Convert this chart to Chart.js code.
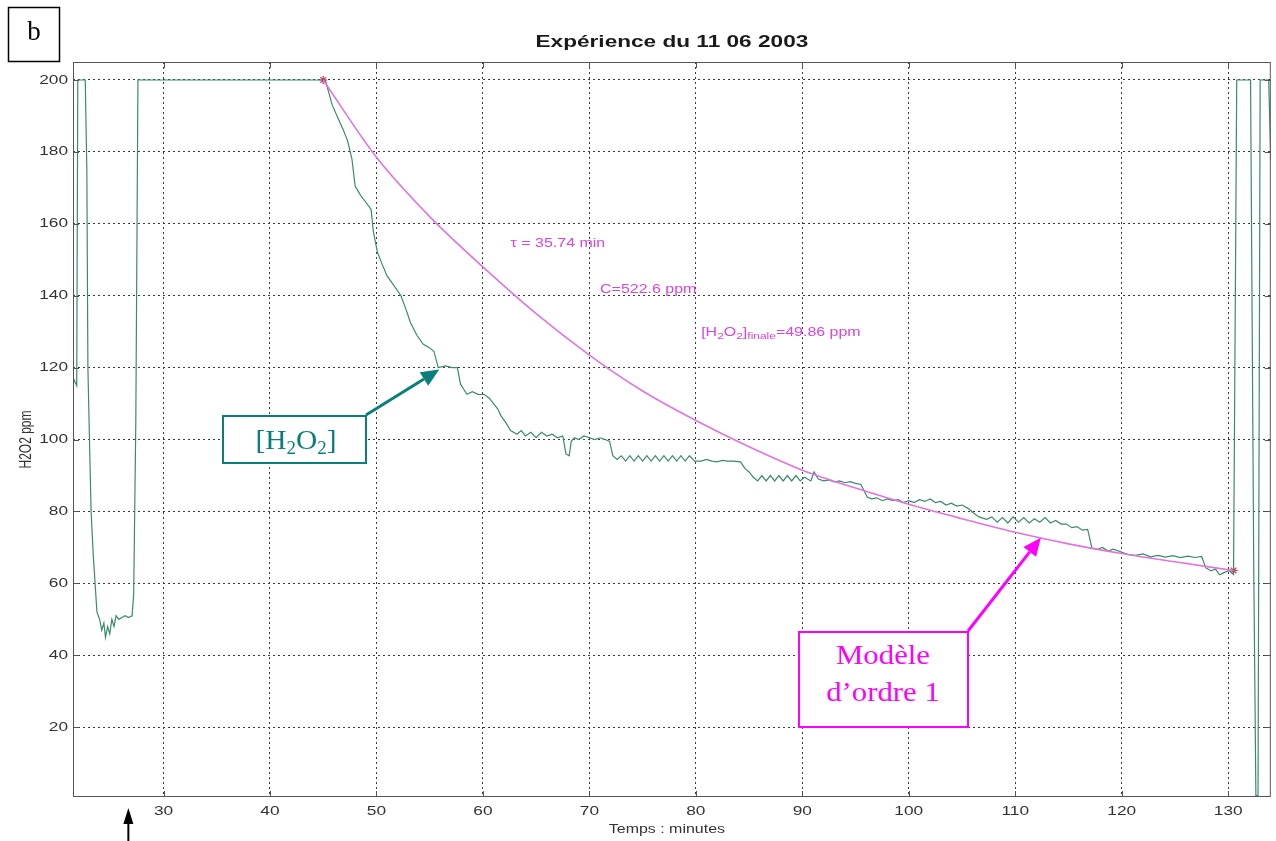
<!DOCTYPE html>
<html>
<head>
<meta charset="utf-8">
<script src="https://cdn.jsdelivr.net/npm/chart.js@4.4.1/dist/chart.umd.min.js"></script>
<style>
  html, body { margin: 0; padding: 0; background: #ffffff; }
  #wrap { position: relative; width: 1276px; height: 841px; }
  canvas { display: block; }
</style>
</head>
<body>
<div id="wrap"><canvas id="c" width="1276" height="841"></canvas></div>
<script>
// ---- Data ----
const chartTitle = "Expérience du 11 06 2003";
const xAxisTitle = "Temps : minutes";
const yAxisTitle = "H2O2 ppm";
const xTickValues = [30, 40, 50, 60, 70, 80, 90, 100, 110, 120, 130];
const yTickValues = [20, 40, 60, 80, 100, 120, 140, 160, 180, 200];

// measured [H2O2] (minutes, ppm)
const measTime = [
  21.55, 21.85, 21.95, 22.1, 22.5, 22.65, 22.8, 22.9, 22.95, 23.2, 23.4, 23.75, 24.0, 24.2, 24.4, 24.55, 24.75, 24.95, 25.15, 25.35, 25.55, 25.8, 26.1, 26.4, 26.7, 27.05, 27.2, 27.4, 27.6,
  45.2, 45.85, 46.3, 46.9, 47.3, 47.7, 48.0, 48.5, 49.0, 49.5, 49.7, 50.1, 50.5, 51.0, 51.6, 52.3, 52.8, 53.2, 53.8, 54.4, 55.0, 55.4, 55.8, 56.5, 57.1, 57.6, 57.9, 58.2, 58.5, 59.0, 59.6, 60.1, 60.6, 61.0, 61.4, 61.7, 62.2, 62.6, 63.2, 63.6, 64.0, 64.5, 65.0, 65.5, 66.0, 66.5, 67.0, 67.5, 67.8, 68.1, 68.3, 68.6, 69.0, 69.5, 70.0, 70.5, 71.0, 71.5, 71.9,
  72.2, 72.6, 73.0, 73.4, 73.8, 74.2, 74.6, 75.0, 75.4, 75.8, 76.2, 76.6, 77.0, 77.4, 77.8, 78.2, 78.6, 79.0, 79.4, 79.9, 80.5, 81.0, 81.5, 82.0, 82.5, 83.0, 83.5, 84.2, 84.6, 85.0, 85.4, 85.8, 86.2, 86.6, 87.0, 87.4, 87.8, 88.2, 88.6, 89.0, 89.4, 89.8, 90.2, 90.8, 91.1, 91.5, 92.0, 92.5, 93.0, 93.5, 94.0, 94.5, 95.0, 95.5,
  96.1, 96.5, 97.0, 97.5, 98.0, 98.5, 99.0, 99.5, 100.0, 100.5, 101.0, 101.5, 102.0, 102.5, 103.0, 103.5, 104.0, 104.5, 105.0, 105.6, 106.1, 106.6, 107.3, 107.8, 108.3, 108.8, 109.3, 109.8, 110.3, 110.8, 111.3, 111.8, 112.3, 112.8, 113.3, 113.8, 114.3, 114.8, 115.3, 115.8, 116.3, 116.8,
  117.2, 117.7, 118.2, 118.7, 119.2, 119.9, 120.6, 121.3, 122.0, 122.7, 123.4, 124.1, 124.8, 125.5, 126.2, 126.9, 127.5, 127.9, 128.4, 128.8, 129.2, 129.6, 130.1, 130.5, 130.8, 132.1, 132.4, 132.6, 132.8, 133.0, 133.8, 134.0
];
const measPpm = [
  117, 115, 200, 200, 200, 200, 175, 120, 113, 80, 68, 52, 50, 47, 49, 45, 48, 46, 50, 48, 51, 50, 50.5, 51, 50.5, 51, 57, 105, 200,
  200, 193, 190, 186, 183, 178, 170.5, 168, 166, 164, 158, 152, 149, 145.5, 143, 140, 136, 132.5, 129, 126.5, 125.5, 124.5, 120, 120.5, 120, 120, 115.4, 114, 112.6, 113.3, 112.5, 112.6, 111.5, 110, 108.5, 106.6, 104.5, 102.5, 101.5, 102.5, 101, 102, 100.5, 102, 101, 101.5, 100.5, 101, 96, 95.5, 99.5, 100.5, 100, 101, 100.5, 100, 100.5, 100, 99.5,
  95.5, 94.5, 95.5, 94, 95.5, 94, 95.5, 94, 95.5, 94, 95.5, 94, 95.5, 94, 95.5, 94, 95.5, 94, 95.5, 94, 94, 94.5, 94, 93.8, 94.2, 94, 94, 93.8, 92, 91, 89.5, 88.5, 90, 88.5, 90, 88.5, 90, 88.5, 90, 88.5, 90, 88.5, 89.5, 88.5, 91, 89, 88.5, 88.8, 88.2, 88.5, 88, 88.3, 87.8, 87.5,
  84, 83.5, 83.8, 83, 83.5, 83, 83.3, 82.5, 83, 82.5, 83.3, 82.8, 83.5, 82.5, 82.8, 81.8, 82.3, 81.5, 81.8, 80.8, 79.5, 78.5, 77.8, 78.5, 77, 78.3, 76.8, 78.5, 77, 78.3, 76.8, 78, 77, 78.3, 76.8, 77.5, 76.5, 76.5, 75.5, 75.8, 74.8, 75,
  69.8, 69.5, 70, 69, 69.5, 68.8, 68, 67.8, 68.2, 67.4, 67.8, 67.3, 67.7, 67.2, 67.6, 67.2, 67.5, 64.3, 63.5, 64, 62.4, 63, 63.6, 62.5, 200, 200, 64, 1, 1, 200, 200, 178
];

// first-order model curve (minutes, ppm)
const modelTime = [45, 50, 55, 60, 65, 70, 75, 80, 85, 90, 95, 100, 105, 110, 115, 120, 125, 130.5];
const modelPpm  = [200, 178.5, 162, 148, 135, 123.5, 113.5, 105.3, 98, 91.5, 86.5, 82, 78, 74.2, 71, 68.3, 66, 63.6];
// fit end points (marked)
const fitEndTime = [45, 130.5];
const fitEndPpm  = [200, 63.6];

// model parameter texts
const tauText = "τ = 35.74 min";
const cText = "C=522.6 ppm";
const finalText = "=49.86 ppm";

// ---- Chart ----
const GREEN = '#3b8a6c';
const MODEL = '#e074e0';
const TEXTMAG = '#d846d8';
const TEAL = '#0a7f7a';
const MAGENTA = '#ff00ff';
const SANS = '"Liberation Sans", Arial, sans-serif';
const SERIF = '"Liberation Serif", "Times New Roman", serif';
const SX = 1.33; // horizontal stretch of the reference's sans-serif text

function arrow(ctx, x1, y1, x2, y2, color, lw, headLen, headW) {
  const ang = Math.atan2(y2 - y1, x2 - x1);
  const bx = x2 - headLen * Math.cos(ang), by = y2 - headLen * Math.sin(ang);
  ctx.save();
  ctx.strokeStyle = color; ctx.fillStyle = color; ctx.lineWidth = lw;
  ctx.beginPath(); ctx.moveTo(x1, y1); ctx.lineTo(bx, by); ctx.stroke();
  ctx.beginPath();
  ctx.moveTo(x2, y2);
  ctx.lineTo(bx + headW * Math.sin(ang), by - headW * Math.cos(ang));
  ctx.lineTo(bx - headW * Math.sin(ang), by + headW * Math.cos(ang));
  ctx.closePath(); ctx.fill();
  ctx.restore();
}

function sText(ctx, text, x, y, sx, align) {
  ctx.save();
  ctx.translate(x, y); ctx.scale(sx, 1);
  ctx.textAlign = align;
  ctx.fillText(text, 0, 0);
  ctx.restore();
}

// draw text pieces with subscripts; parts: [text, isSub]
function richText(ctx, x, y, parts, size, subSize, subDrop, font, sx) {
  ctx.save();
  ctx.translate(x, y); ctx.scale(sx || 1, 1);
  ctx.textAlign = 'left';
  let cx = 0;
  for (const [t, sub] of parts) {
    ctx.font = (sub ? subSize : size) + 'px ' + font;
    ctx.fillText(t, cx, sub ? subDrop : 0);
    cx += ctx.measureText(t).width;
  }
  ctx.restore();
  return cx * (sx || 1);
}

const decorPlugin = {
  id: 'decor',
  afterDraw(chart) {
    const ctx = chart.ctx;
    const ca = chart.chartArea;
    const xs = chart.scales.x, ys = chart.scales.y;
    ctx.save();

    // frame
    ctx.strokeStyle = '#555'; ctx.lineWidth = 1; ctx.setLineDash([]);
    ctx.strokeRect(ca.left + 0.5, ca.top + 0.5, ca.right - ca.left - 1, ca.bottom - ca.top - 1);
    // inward ticks
    ctx.beginPath();
    for (const v of xTickValues) {
      const px = Math.round(xs.getPixelForValue(v)) + 0.5;
      ctx.moveTo(px, ca.bottom); ctx.lineTo(px, ca.bottom - 6);
      ctx.moveTo(px, ca.top); ctx.lineTo(px, ca.top + 6);
    }
    for (const v of yTickValues) {
      const py = Math.round(ys.getPixelForValue(v)) + 0.5;
      ctx.moveTo(ca.left, py); ctx.lineTo(ca.left + 6, py);
      ctx.moveTo(ca.right, py); ctx.lineTo(ca.right - 6, py);
    }
    ctx.stroke();

    // tick labels (positions from the chart's scales)
    ctx.fillStyle = '#333';
    ctx.font = '13px ' + SANS;
    ctx.textBaseline = 'middle';
    for (const v of xTickValues) sText(ctx, String(v), xs.getPixelForValue(v), ca.bottom + 14, SX, 'center');
    for (const v of yTickValues) sText(ctx, String(v), ca.left - 5, ys.getPixelForValue(v), SX, 'right');

    // title
    ctx.fillStyle = '#1a1a1a';
    ctx.font = 'bold 17px ' + SANS;
    sText(ctx, chartTitle, (ca.left + ca.right) / 2, 42, SX, 'center');

    // axis titles
    ctx.fillStyle = '#333';
    ctx.font = '12px ' + SANS;
    sText(ctx, xAxisTitle, (ca.left + ca.right) / 2 - 5, 830, SX, 'center');
    ctx.save();
    ctx.translate(27, (ca.top + ca.bottom) / 2 + 10);
    ctx.rotate(-Math.PI / 2);
    ctx.scale(1, SX);
    ctx.textAlign = 'center';
    ctx.fillText(yAxisTitle, 0, 0);
    ctx.restore();

    // model parameter texts (anchored in data coordinates)
    ctx.fillStyle = TEXTMAG;
    ctx.textBaseline = 'middle';
    ctx.font = '12px ' + SANS;
    sText(ctx, tauText, xs.getPixelForValue(62.6), ys.getPixelForValue(154.4), SX, 'left');
    sText(ctx, cText, xs.getPixelForValue(71.0), ys.getPixelForValue(141.8), SX, 'left');
    richText(ctx, xs.getPixelForValue(80.5), ys.getPixelForValue(129.8),
      [['[H', false], ['2', true], ['O', false], ['2', true], [']', false], ['finale', true], [finalText, false]],
      12, 9, 4, SANS, SX);

    // "b" box
    ctx.setLineDash([]);
    ctx.fillStyle = '#fff';
    ctx.fillRect(8, 7, 52, 55);
    ctx.strokeStyle = '#000'; ctx.lineWidth = 1.5;
    ctx.strokeRect(8.5, 7.5, 51, 54);
    ctx.fillStyle = '#000';
    ctx.font = '27px ' + SERIF;
    ctx.textAlign = 'center'; ctx.textBaseline = 'middle';
    ctx.fillText('b', 34, 33);

    // [H2O2] box + arrow
    const tipA = [xs.getPixelForValue(55.9), ys.getPixelForValue(119.5)];
    arrow(ctx, 366, 415, tipA[0], tipA[1], TEAL, 3, 18, 8);
    ctx.fillStyle = '#fff';
    ctx.fillRect(222, 415, 144, 48);
    ctx.strokeStyle = TEAL; ctx.lineWidth = 2;
    ctx.strokeRect(223, 416, 143, 47);
    ctx.fillStyle = TEAL; ctx.textBaseline = 'alphabetic';
    ctx.font = '28px ' + SERIF;
    let w = ctx.measureText('[HO]').width;
    ctx.font = '18px ' + SERIF;
    w += 2 * ctx.measureText('2').width;
    w *= 1.05;
    richText(ctx, 296 - w / 2, 449, [['[H', false], ['2', true], ['O', false], ['2', true], [']', false]], 28, 18, 5, SERIF, 1.05);

    // Modèle d'ordre 1 box + arrow
    const tipB = [xs.getPixelForValue(112.4), ys.getPixelForValue(72.7)];
    arrow(ctx, 968, 631, tipB[0], tipB[1], MAGENTA, 3, 18, 8);
    ctx.fillStyle = '#fff';
    ctx.fillRect(798, 631, 170, 96);
    ctx.strokeStyle = MAGENTA; ctx.lineWidth = 2;
    ctx.strokeRect(799, 632, 169, 95);
    ctx.fillStyle = MAGENTA; ctx.textBaseline = 'middle';
    ctx.font = '28px ' + SERIF;
    sText(ctx, 'Modèle', 883, 657, 1.1, 'center');
    sText(ctx, 'd\u2019ordre 1', 883, 694, 1.1, 'center');

    // black arrow below the axis
    const ax = xs.getPixelForValue(26.7);
    arrow(ctx, ax, 841, ax, 808, '#000', 2, 16, 5);

    ctx.restore();
  }
};

const gridStyle = { color: '#3a3a3a', lineWidth: 1, drawTicks: false };

new Chart(document.getElementById('c'), {
  type: 'line',
  data: {
    datasets: [
      {
        label: 'model',
        data: modelTime.map((t, i) => ({ x: t, y: modelPpm[i] })),
        borderColor: MODEL, borderWidth: 1.6, pointRadius: 0,
        cubicInterpolationMode: 'monotone', fill: false
      },
      {
        label: '[H2O2]',
        data: measTime.map((t, i) => ({ x: t, y: measPpm[i] })),
        borderColor: GREEN, borderWidth: 1.2, pointRadius: 0, tension: 0, fill: false
      },
      {
        label: 'ends',
        data: fitEndTime.map((t, i) => ({ x: t, y: fitEndPpm[i] })),
        showLine: false, pointStyle: 'star', pointRadius: 4,
        borderColor: '#e0305a', borderWidth: 1.2, backgroundColor: '#e0305a'
      }
    ]
  },
  options: {
    responsive: false,
    animation: false,
    devicePixelRatio: 1,
    layout: { padding: { top: 62, right: 5, left: 0, bottom: 0 } },
    plugins: { legend: { display: false }, title: { display: false }, tooltip: { enabled: false } },
    scales: {
      x: {
        type: 'linear', min: 21.5, max: 134,
        afterBuildTicks: s => { s.ticks = xTickValues.map(v => ({ value: v })); },
        afterFit: s => { s.height = 44; },
        grid: gridStyle,
        border: { display: false, dash: [2, 3] },
        ticks: { display: false }
      },
      y: {
        type: 'linear', min: 0.6, max: 205,
        afterBuildTicks: s => { s.ticks = yTickValues.map(v => ({ value: v })); },
        afterFit: s => { s.width = 73; },
        grid: gridStyle,
        border: { display: false, dash: [2, 3] },
        ticks: { display: false }
      }
    }
  },
  plugins: [decorPlugin]
});
</script>
</body>
</html>
